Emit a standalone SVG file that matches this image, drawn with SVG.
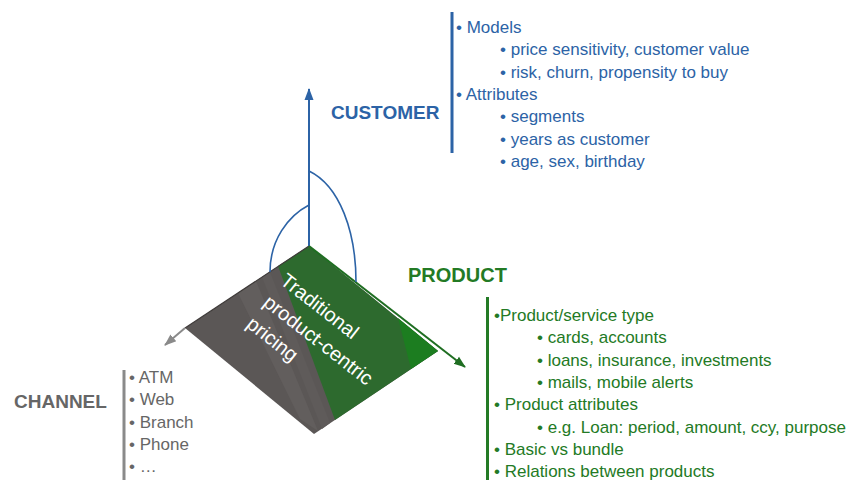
<svg xmlns="http://www.w3.org/2000/svg" width="866" height="481" viewBox="0 0 866 481">
  <defs>
    <style>
      text { font-family: "Liberation Sans", Arial, sans-serif; }
      .head { font-weight: bold; font-size: 19px; }
      .item { font-size: 17px; }
      .blue { fill: #2c63a6; }
      .green { fill: #237a25; }
      .grey { fill: #666666; }
      .plane-text { fill: #ffffff; font-size: 20px; }
      .axis { fill: none; stroke-width: 2; }
      .arc { fill: none; stroke: #2c63a6; stroke-width: 1.6; }
    </style>
    <marker id="head-blue" markerUnits="userSpaceOnUse" markerWidth="12" markerHeight="12" viewBox="0 0 12 12" refX="11" refY="6" orient="auto">
      <path d="M0,1.5 L12,6 L0,10.5 Z" fill="#2c63a6"/>
    </marker>
    <marker id="head-green" markerUnits="userSpaceOnUse" markerWidth="12" markerHeight="12" viewBox="0 0 12 12" refX="11" refY="6" orient="auto">
      <path d="M0,1.5 L12,6 L0,10.5 Z" fill="#1f6e22"/>
    </marker>
    <marker id="head-grey" markerUnits="userSpaceOnUse" markerWidth="12" markerHeight="12" viewBox="0 0 12 12" refX="11" refY="6" orient="auto">
      <path d="M0,1.5 L12,6 L0,10.5 Z" fill="#8a8a8a"/>
    </marker>
  </defs>

  <rect width="866" height="481" fill="#ffffff"/>

  <!-- pricing plane -->
  <g id="plane">
    <polygon points="309,246 438,351 314,434 185,328" fill="#5b5756"/>
    <!-- subtle shading bands on the grey part -->
    <polygon points="238,293 256,281 318,431 300,419" fill="#625e5d"/>
    <polygon points="262,277 270,272 330,423 322,429" fill="#5f5b5a"/>
    <!-- green part -->
    <polygon points="278,266 309,246 438,351 335,420" fill="#2d6a2e"/>
    <polygon points="398,318 438,351 411,369" fill="#1c7d20"/>
    <polyline points="185,328 309,246" fill="none" stroke="#3f3b3a" stroke-width="1.2"/>
    <g class="plane-text" transform="translate(279,283) rotate(38)">
      <text x="0" y="0">Traditional</text>
      <text x="0" y="27.5">product-centric</text>
      <text x="0" y="55">pricing</text>
    </g>
  </g>

  <!-- axes and angle arcs -->
  <g id="connectors">
    <line class="axis" x1="309" y1="246" x2="309" y2="89" stroke="#2c63a6" marker-end="url(#head-blue)"/>
    <line class="axis" x1="309" y1="246" x2="465" y2="367" stroke="#1f6e22" marker-end="url(#head-green)"/>
    <line class="axis" x1="185" y1="328" x2="165" y2="345" stroke="#8a8a8a" marker-end="url(#head-grey)"/>
    <path class="arc" d="M270,272 C270,240 288,216 309,205"/>
    <path class="arc" d="M309,171 C340,186 356,232 356,282"/>
  </g>

  <!-- customer dimension -->
  <g id="customer">
    <text class="head blue" x="331" y="119">CUSTOMER</text>
    <rect x="450.5" y="12" width="3" height="141" fill="#2c63a6"/>
    <g class="item blue">
      <text x="456" y="33">• Models</text>
      <text x="500" y="55.3">• price sensitivity, customer value</text>
      <text x="500" y="77.6">• risk, churn, propensity to buy</text>
      <text x="456" y="99.9">• Attributes</text>
      <text x="500" y="122.2">• segments</text>
      <text x="500" y="144.5">• years as customer</text>
      <text x="500" y="166.8">• age, sex, birthday</text>
    </g>
  </g>

  <!-- product dimension -->
  <g id="product">
    <text class="head green" x="408" y="282" style="font-size:20px">PRODUCT</text>
    <rect x="486" y="297" width="3" height="183" fill="#237a25"/>
    <g class="item green">
      <text x="494" y="321">•Product/service type</text>
      <text x="537" y="343.3">• cards, accounts</text>
      <text x="537" y="365.6">• loans, insurance, investments</text>
      <text x="537" y="387.9">• mails, mobile alerts</text>
      <text x="494" y="410.2">• Product attributes</text>
      <text x="537" y="432.5">• e.g. Loan: period, amount, ccy, purpose</text>
      <text x="494" y="454.8">• Basic vs bundle</text>
      <text x="494" y="477.1">• Relations between products</text>
    </g>
  </g>

  <!-- channel dimension -->
  <g id="channel">
    <text class="head grey" x="14" y="408">CHANNEL</text>
    <rect x="122.5" y="370" width="3" height="110" fill="#8a8a8a"/>
    <g class="item grey">
      <text x="129" y="383">• ATM</text>
      <text x="129" y="405">• Web</text>
      <text x="129" y="427.5">• Branch</text>
      <text x="129" y="449.5">• Phone</text>
      <text x="129" y="471.5">• …</text>
    </g>
  </g>
</svg>
